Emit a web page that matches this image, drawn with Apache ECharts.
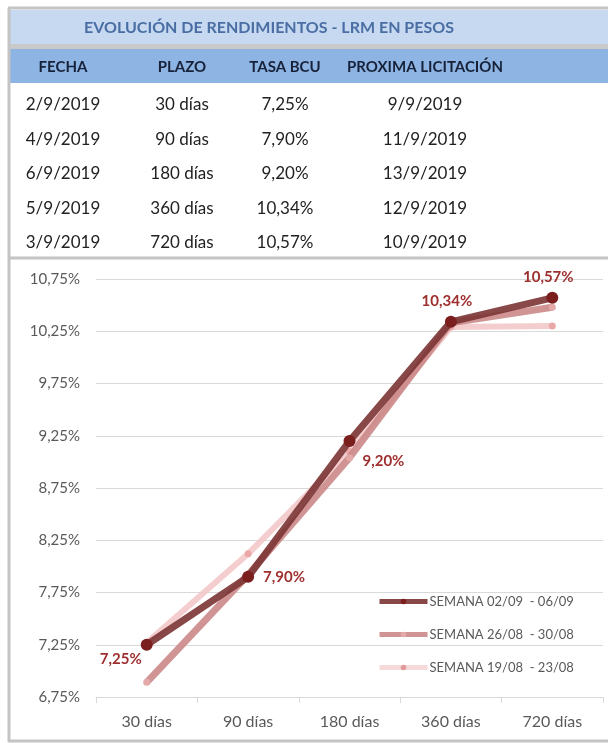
<!DOCTYPE html>
<html><head><meta charset="utf-8">
<script src="https://cdn.jsdelivr.net/npm/echarts@6/dist/echarts.min.js"></script>
<style>html,body{margin:0;padding:0;background:#fff}#c{width:608px;height:743px}</style>
</head><body><div id="c"></div>
<script>
// ---- table data ----
const tableTitle = 'EVOLUCIÓN DE RENDIMIENTOS - LRM EN PESOS';
const tableHeaders = ['FECHA', 'PLAZO', 'TASA BCU', 'PROXIMA LICITACIÓN'];
const fechas = ['2/9/2019', '4/9/2019', '6/9/2019', '5/9/2019', '3/9/2019'];
const plazos = ['30 días', '90 días', '180 días', '360 días', '720 días'];
const tasas = ['7,25%', '7,90%', '9,20%', '10,34%', '10,57%'];
const proximas = ['9/9/2019', '11/9/2019', '13/9/2019', '12/9/2019', '10/9/2019'];

// ---- chart data ----
const categories = ['30 días', '90 días', '180 días', '360 días', '720 días'];
const seriesNames = ['SEMANA 02/09  - 06/09', 'SEMANA 26/08  - 30/08', 'SEMANA 19/08  - 23/08'];
const semana0209 = [7.25, 7.90, 9.20, 10.34, 10.57];
const semana2608 = [6.89, 7.92, 9.04, 10.33, 10.48];
const semana1908 = [7.27, 8.12, 9.10, 10.29, 10.30];
const yTicks = [6.75, 7.25, 7.75, 8.25, 8.75, 9.25, 9.75, 10.25, 10.75];

const FONT = 'Lato, "Open Sans", sans-serif';
const fmt = v => v.toFixed(2).replace('.', ',') + '%';

const chart = echarts.init(document.getElementById('c'), null, {renderer: 'canvas'});

// table graphics
const colX = [63, 182, 285, 425];
const rowY0 = 105, rowH = 34.5;
const graphics = [
  {type: 'rect', shape: {x: 10, y: 10, width: 600, height: 34}, style: {fill: '#c6d9f1'}, z: 1},
  {type: 'rect', shape: {x: 10, y: 44, width: 600, height: 5}, style: {fill: '#c9c9c9'}, z: 1},
  {type: 'rect', shape: {x: 10, y: 49, width: 600, height: 34}, style: {fill: '#8db4e2'}, z: 1},
  {type: 'line', shape: {x1: 9, y1: 8, x2: 9, y2: 742}, style: {stroke: '#c4c4c4', lineWidth: 3}, z: 2},
  {type: 'line', shape: {x1: 8, y1: 8, x2: 608, y2: 8}, style: {stroke: '#c4c4c4', lineWidth: 3}, z: 2},
  {type: 'line', shape: {x1: 8, y1: 258, x2: 608, y2: 258}, style: {stroke: '#c4c4c4', lineWidth: 3}, z: 2},
  {type: 'line', shape: {x1: 8, y1: 741, x2: 608, y2: 741}, style: {stroke: '#c4c4c4', lineWidth: 3}, z: 2},
  {type: 'text', x: 269, y: 28, style: {text: tableTitle, fill: '#4a6ea3', font: 'bold 16px ' + FONT, align: 'center', verticalAlign: 'middle'}, z: 3}
];
tableHeaders.forEach((h, i) => graphics.push({type: 'text', x: colX[i], y: 67,
  style: {text: h, fill: '#17223a', font: 'bold 15px ' + FONT, align: 'center', verticalAlign: 'middle'}, z: 3}));
[fechas, plazos, tasas, proximas].forEach((col, ci) => col.forEach((t, ri) => graphics.push({type: 'text', x: colX[ci], y: rowY0 + ri * rowH,
  style: {text: t, fill: '#222222', font: '17px ' + FONT, align: 'center', verticalAlign: 'middle'}, z: 3})));

const labelCfg = [
  {position: 'left', offset: [6, 14]},
  {position: 'right', offset: [4, 0]},
  {position: 'right', offset: [2, 20]},
  {position: 'top', offset: [-4, -2]},
  {position: 'top', offset: [-4, -2]}
];

chart.setOption({
  animation: false,
  backgroundColor: '#ffffff',
  textStyle: {fontFamily: FONT},
  graphic: graphics,
  grid: {left: 96, right: 5, top: 279, bottom: 46},
  legend: {
    data: [
      {name: seriesNames[0], lineStyle: {width: 5, color: '#7b3434'}, itemStyle: {color: '#7a1e1e'}},
      {name: seriesNames[1], lineStyle: {width: 5, color: '#cb8888'}, itemStyle: {color: '#e4a9a9'}},
      {name: seriesNames[2], lineStyle: {width: 5, color: '#f4d2d2'}, itemStyle: {color: '#e29a9a'}}
    ],
    orient: 'vertical', left: 372, top: 590, itemGap: 20, itemWidth: 48, itemHeight: 7,
    textStyle: {color: '#595959', fontSize: 13, fontFamily: FONT, padding: [0, 0, 0, -3]}
  },
  xAxis: {
    type: 'category', data: categories, boundaryGap: true,
    axisLine: {lineStyle: {color: '#d9d9d9', width: 1}},
    axisTick: {show: true, length: 6, lineStyle: {color: '#d9d9d9'}},
    axisLabel: {color: '#595959', fontSize: 16, margin: 17, fontFamily: FONT},
    splitLine: {show: false}
  },
  yAxis: {
    type: 'value', min: yTicks[0], max: yTicks[yTicks.length - 1], interval: 0.5,
    axisLine: {show: false}, axisTick: {show: false},
    axisLabel: {color: '#595959', fontSize: 15, margin: 16, fontFamily: FONT, formatter: fmt},
    splitLine: {lineStyle: {color: '#d9d9d9', width: 1}}
  },
  series: [
    {name: seriesNames[2], type: 'line', data: semana1908, z: 2,
      lineStyle: {color: '#f2c6c6', width: 6, opacity: 0.85},
      itemStyle: {color: '#eba8a8'}, symbol: 'circle', symbolSize: 7},
    {name: seriesNames[1], type: 'line', data: semana2608, z: 3,
      lineStyle: {color: '#cb8888', width: 7, opacity: 0.9},
      itemStyle: {color: '#e4a9a9'}, symbol: 'circle', symbolSize: 7},
    {name: seriesNames[0], type: 'line', data: semana0209.map((v, i) => ({value: v, label: labelCfg[i]})), z: 4,
      lineStyle: {color: '#7b3434', width: 7, opacity: 0.9},
      itemStyle: {color: '#7a1e1e'}, symbol: 'circle', symbolSize: 12,
      label: {show: true, color: '#9e2f2f', fontWeight: 'bold', fontSize: 15, fontFamily: FONT, formatter: p => fmt(p.value)}}
  ]
});
</script></body></html>
